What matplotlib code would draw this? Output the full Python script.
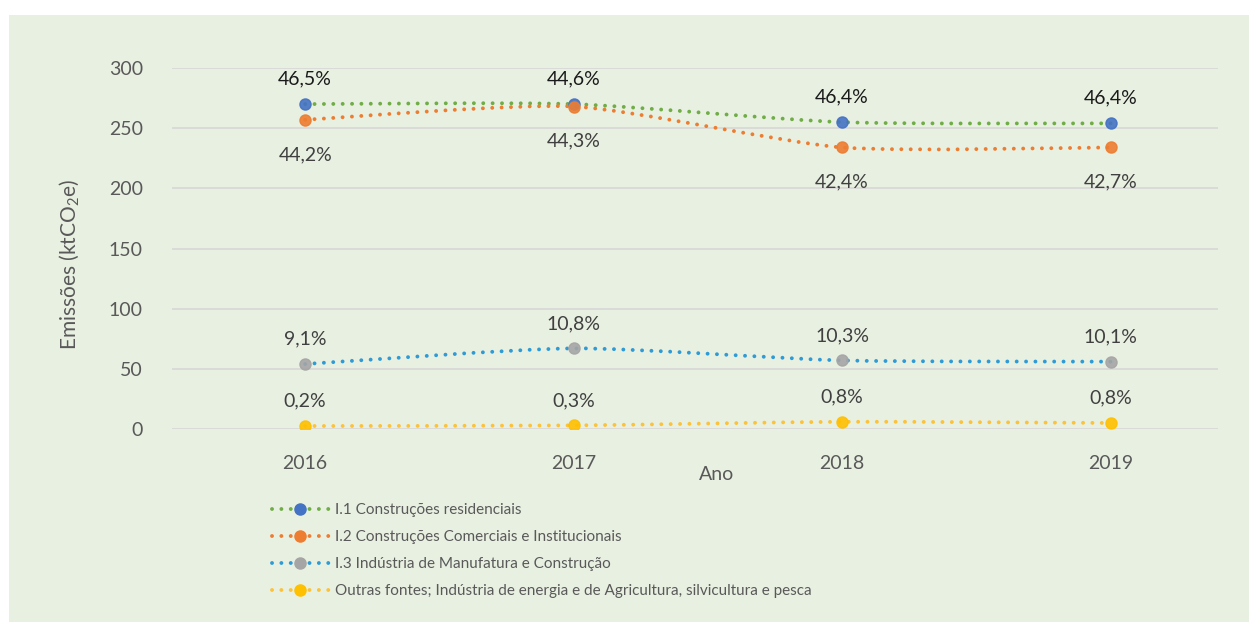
import matplotlib
matplotlib.use('Agg')
import matplotlib.pyplot as plt
from matplotlib.path import Path
from matplotlib.patches import PathPatch, Rectangle
from matplotlib.lines import Line2D
import numpy as np

plt.rcParams['font.family'] = ['Lato', 'DejaVu Sans']
plt.rcParams['mathtext.fontset'] = 'custom'
plt.rcParams['mathtext.rm'] = 'Lato'

anos = ['2016', '2017', '2018', '2019']
residenciais = [270, 270, 255, 254]
comerciais = [257, 268, 234, 234]
industria = [54, 67, 57, 56]
outras = [2.5, 3, 6, 5]

pct_residenciais = ['46,5%', '44,6%', '46,4%', '46,4%']
pct_comerciais = ['44,2%', '44,3%', '42,4%', '42,7%']
pct_industria = ['9,1%', '10,8%', '10,3%', '10,1%']
pct_outras = ['0,2%', '0,3%', '0,8%', '0,8%']

nomes = ['I.1 Construções residenciais',
         'I.2 Construções Comerciais e Institucionais',
         'I.3 Indústria de Manufatura e Construção',
         'Outras fontes; Indústria de energia e de Agricultura, silvicultura e pesca']

cor_linha = ['#70AD47', '#ED7D31', '#2E9BD6', '#FCC23A']
cor_marca = ['#4472C4', '#ED7D31', '#A5A5A5', '#FFC000']
bg = '#E8F0E1'


def smooth_path(xs, ys, k=9.0):
    # smoothed line like Excel: Catmull-Rom style segments as cubic Beziers
    pts = np.column_stack([xs, ys]).astype(float)
    n = len(pts)
    verts = [pts[0]]
    codes = [Path.MOVETO]
    for i in range(n - 1):
        p0 = pts[max(i - 1, 0)]
        p1 = pts[i]
        p2 = pts[i + 1]
        p3 = pts[min(i + 2, n - 1)]
        c1 = p1 + (p2 - p0) / k
        c2 = p2 - (p3 - p1) / k
        verts += [c1, c2, p2]
        codes += [Path.CURVE4] * 3
    return Path(verts, codes)


fig = plt.figure(figsize=(12.49, 6.22), dpi=100)
fig.patch.set_facecolor('white')
fig.patches.append(Rectangle((9 / 1249, 0), 1 - 9 / 1249, 1 - 15 / 622,
                             transform=fig.transFigure, facecolor=bg,
                             edgecolor='none', zorder=-10))

ax = fig.add_axes([172 / 1249, 1 - 429 / 622, (1218 - 172) / 1249, (429 - 68) / 622])
ax.set_facecolor('none')

x = np.arange(len(anos))
series = [residenciais, comerciais, industria, outras]
labels = [pct_residenciais, pct_comerciais, pct_industria, pct_outras]
label_cor = ['#1a1a1a', '#404040', '#404040', '#404040']
offsets = [18, -25, 18, 18]

dash = (0, (0.01, 2.4))
for i, ys in enumerate(series):
    patch = PathPatch(smooth_path(x, ys), facecolor='none', edgecolor=cor_linha[i],
                      lw=2.8, linestyle=dash, capstyle='round', zorder=3)
    ax.add_patch(patch)
    ax.plot(x, ys, linestyle='none', marker='o', ms=8, color=cor_marca[i],
            markeredgecolor=cor_marca[i], alpha=0.9, zorder=4)
    for xi, yi, t in zip(x, ys, labels[i]):
        ax.annotate(t, (xi, yi), xytext=(0, offsets[i]), textcoords='offset points',
                    ha='center', va='center', fontsize=14, color=label_cor[i])

ax.set_xlim(-0.496, 3.40)
ax.set_ylim(0, 300)
ax.set_yticks(range(0, 301, 50))
ax.set_xticks(x)
ax.set_xticklabels(anos)
ax.grid(axis='y', color='#D9D9D9', lw=1.3)
ax.set_axisbelow(True)
ax.tick_params(length=0, labelsize=14, colors='#595959')
ax.tick_params(axis='x', pad=19)
ax.tick_params(axis='y', pad=21)
for s in ax.spines.values():
    s.set_visible(False)

fig.text(717 / 1249, 1 - 474 / 622, 'Ano', ha='center', va='center',
         fontsize=14, color='#595959')
fig.text(70 / 1249, 1 - 265 / 622, 'Emissões (ktCO$_2$e)', rotation=90,
         ha='center', va='center', fontsize=15, color='#595959')

handles = [Line2D([0], [0], color=cor_linha[i], lw=2.8, linestyle=dash,
                  dash_capstyle='round', marker='o', ms=8, markerfacecolor=cor_marca[i],
                  markeredgecolor=cor_marca[i]) for i in range(4)]
fig.legend(handles, nomes, loc='upper left', bbox_to_anchor=(266 / 1249, 1 - 497 / 622),
           frameon=False, fontsize=11, labelcolor='#595959', handlelength=3.7,
           handletextpad=0.4, labelspacing=0.85, borderaxespad=0)

fig.savefig('out.png', dpi=100, facecolor=fig.get_facecolor())
